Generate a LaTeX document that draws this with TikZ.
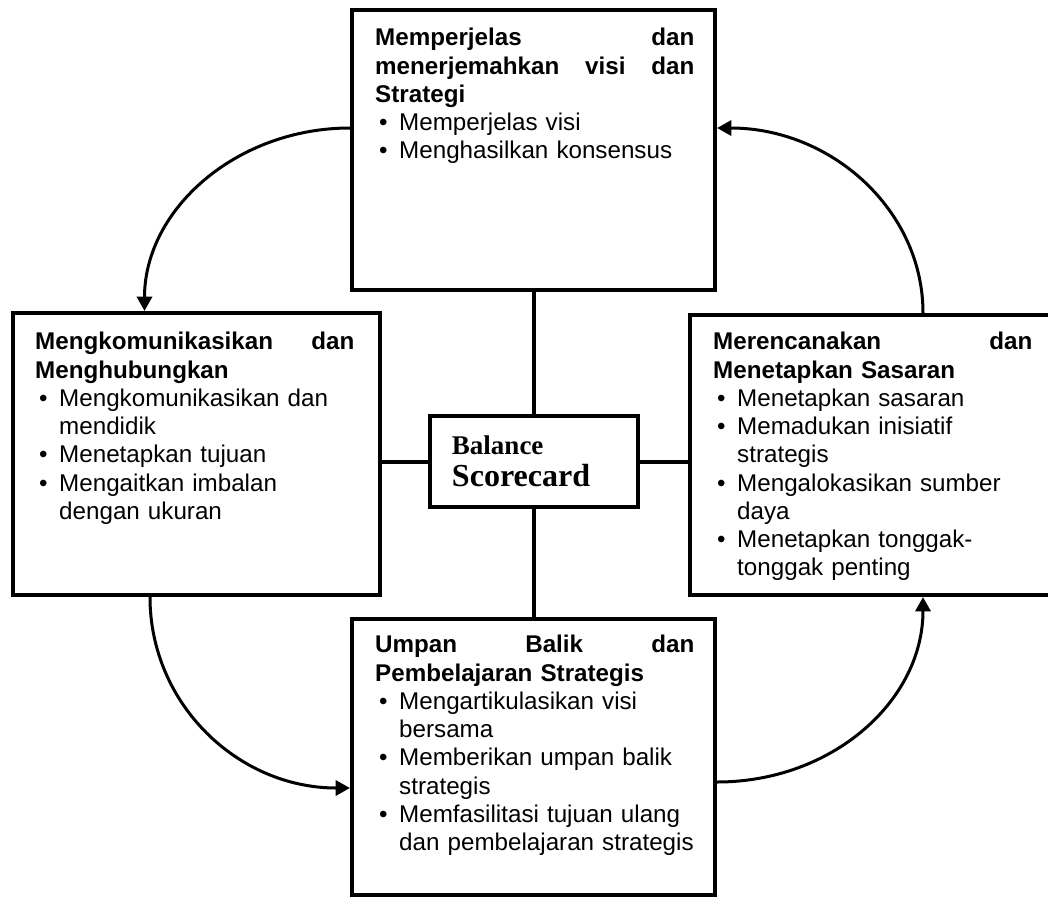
\documentclass[tikz,border=0pt]{standalone}
\usepackage{fontspec}
\setmainfont{Liberation Sans}
\newfontfamily\judulserif{Liberation Serif}
\usepackage{tikz}
\usetikzlibrary{arrows.meta, positioning, calc}
\setlength{\parindent}{0pt}
\setlength{\parskip}{0pt}
\newcommand{\poin}[1]{\par\hangindent=0.6cm\hangafter=1\noindent\makebox[0.6cm][l]{\hspace{0.1cm}\textbullet}#1\par}

\begin{document}
\begin{tikzpicture}[
        x=0.025cm, y=-0.025cm,
        kotak/.style={rectangle, draw, line width=0.1cm, inner sep=0pt},
        isi/.style={anchor=north west, inner sep=0pt, text width=7.975cm, align=left, font=\fontsize{17.2}{20.1}\selectfont},
        garis/.style={line width=0.1cm},
        panah/.style={-{Triangle[length=0.36cm, width=0.38cm]}, line width=0.075cm}
    ]
        \useasboundingbox (0,0) rectangle (1048,897);
        \clip (0,0) rectangle (1048,897);

        % Kotak 1: visi dan strategi (atas)
        \node[kotak, minimum width=9.075cm, minimum height=7cm] (visi) at (533.5, 150) {};
        \node[isi] (visiteks) at ([shift={(25,20)}]visi.north west) {%
            {\bfseries Memperjelas\hfill dan\\menerjemahkan\hfill visi\hfill dan\\Strategi\par}
            \poin{Memperjelas visi}
            \poin{Menghasilkan konsensus}};

        % Kotak 2: komunikasi (kiri)
        \node[kotak, minimum width=9.175cm, minimum height=7.05cm] (komunikasi) at (196.5, 454) {};
        \node[isi] (komunikasiteks) at ([shift={(24,21)}]komunikasi.north west) {%
            {\bfseries Mengkomunikasikan\hfill dan\\Menghubungkan\par}
            \poin{Mengkomunikasikan dan\newline mendidik}
            \poin{Menetapkan tujuan}
            \poin{Mengaitkan imbalan\newline dengan ukuran}};

        % Kotak 3: sasaran (kanan)
        \node[kotak, minimum width=9.175cm, minimum height=7cm] (sasaran) at (873.5, 455) {};
        \node[isi] (sasaranteks) at ([shift={(25,19)}]sasaran.north west) {%
            {\bfseries Merencanakan\hfill dan\\Menetapkan Sasaran\par}
            \poin{Menetapkan sasaran}
            \poin{Memadukan inisiatif\newline strategis}
            \poin{Mengalokasikan sumber\newline daya}
            \poin{Menetapkan tonggak-\newline tonggak penting}};

        % Kotak 4: umpan balik (bawah)
        \node[kotak, minimum width=9.075cm, minimum height=6.9cm] (umpan) at (533.5, 757) {};
        \node[isi] (umpanteks) at ([shift={(25,18)}]umpan.north west) {%
            {\bfseries Umpan\hfill Balik\hfill dan\\Pembelajaran Strategis\par}
            \poin{Mengartikulasikan visi\newline bersama}
            \poin{Memberikan umpan balik\newline strategis}
            \poin{Memfasilitasi tujuan ulang\newline dan pembelajaran strategis}};

        % Tengah: Balance Scorecard
        \node[kotak, minimum width=5.2cm, minimum height=2.275cm, text width=4.1cm, inner xsep=0.55cm, align=left, font=\judulserif\bfseries] (bsc) at (534, 461.5)
            {{\fontsize{19.2}{22}\selectfont Balance\par}{\fontsize{22.8}{22.8}\selectfont Scorecard\par}};

        % garis ke tengah
        \draw[garis] (bsc.north) -- (bsc.north |- visi.south);
        \draw[garis] (bsc.south) -- (bsc.south |- umpan.north);
        \draw[garis] (bsc.west) -- (bsc.west -| komunikasi.east);
        \draw[garis] (bsc.east) -- (bsc.east -| sasaran.west);

        % panah melingkar
        \draw[panah] ([shift={(0,-22)}]visi.west) .. controls +(-113,0) and +(0,-102) .. ([shift={(-52,0)}]komunikasi.north);
        \draw[panah] ([shift={(-46.5,0)}]komunikasi.south) .. controls +(0,107) and +(-112,0) .. ([shift={(0,31)}]umpan.west);
        \draw[panah] ([shift={(0,25)}]umpan.east) .. controls +(115,0) and +(0,104) .. ([shift={(49.5,0)}]sasaran.south);
        \draw[panah] ([shift={(49.5,0)}]sasaran.north) .. controls +(0,-103) and +(114,0) .. ([shift={(0,-22)}]visi.east);

    \end{tikzpicture}
\end{document}
